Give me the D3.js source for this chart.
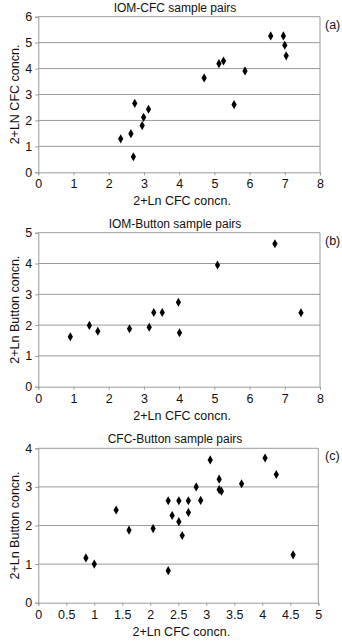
<!DOCTYPE html>
<html>
<head>
<meta charset="utf-8">
<script src="https://cdn.jsdelivr.net/npm/d3@7"></script>
<style>
  body { margin: 0; background: #fff; }
  svg text { font-family: "Liberation Sans", Arial, sans-serif; fill: #111; }
</style>
</head>
<body>
<div id="vis"></div>
<script>
// panel (a) IOM-CFC
var aX = [2.34, 2.63, 2.70, 2.74, 2.95, 2.99, 3.13, 4.71, 5.13, 5.26, 5.56, 5.87, 6.60, 6.96, 7.00, 7.04];
var aY = [1.29, 1.49, 0.60, 2.66, 1.80, 2.12, 2.43, 3.64, 4.19, 4.29, 2.61, 3.91, 5.26, 5.26, 4.90, 4.49];
// panel (b) IOM-Button
var bX = [0.91, 1.45, 1.69, 2.59, 3.15, 3.28, 3.52, 3.98, 4.01, 5.09, 6.72, 7.46];
var bY = [1.62, 1.99, 1.80, 1.88, 1.93, 2.41, 2.41, 2.74, 1.75, 3.95, 4.64, 2.40];
// panel (c) CFC-Button
var cX = [0.85, 1.00, 1.39, 1.62, 2.05, 2.32, 2.32, 2.39, 2.51, 2.51, 2.57, 2.68, 2.68, 2.82, 2.90, 3.07, 3.23, 3.23, 3.27, 3.63, 4.05, 4.25, 4.55];
var cY = [1.16, 1.00, 2.40, 1.88, 1.92, 0.83, 2.64, 2.26, 2.64, 2.10, 1.74, 2.64, 2.34, 3.00, 2.65, 3.70, 3.20, 2.93, 2.89, 3.08, 3.75, 3.32, 1.24];

var ticksA_x = [0, 1, 2, 3, 4, 5, 6, 7, 8];
var ticksA_y = [0, 1, 2, 3, 4, 5, 6];
var ticksB_x = [0, 1, 2, 3, 4, 5, 6, 7, 8];
var ticksB_y = [0, 1, 2, 3, 4, 5];
var ticksC_x = [0, 0.5, 1, 1.5, 2, 2.5, 3, 3.5, 4, 4.5, 5];
var ticksC_y = [0, 1, 2, 3, 4];

var titles = ["IOM-CFC sample pairs", "IOM-Button sample pairs", "CFC-Button sample pairs"];
var yTitles = ["2+LN CFC concn.", "2+Ln Button concn.", "2+Ln Button concn."];
var xTitle = "2+Ln CFC concn.";
var tags = ["(a)", "(b)", "(c)"];

var width = 342, height = 642;
var svg = d3.select("#vis").append("svg")
    .attr("width", width)
    .attr("height", height);

var panels = [
  {xs: aX, ys: aY, tx: ticksA_x, ty: ticksA_y, top: 16.7, bottom: 172.3, right: 320},
  {xs: bX, ys: bY, tx: ticksB_x, ty: ticksB_y, top: 232.7, bottom: 386.7, right: 320},
  {xs: cX, ys: cY, tx: ticksC_x, ty: ticksC_y, top: 448.3, bottom: 602.7, right: 318.3}
];
var left = 38.3;
var gridCol = "#9a9a9a";

panels.forEach(function(p, i) {
  var x = d3.scaleLinear()
    .domain([p.tx[0], p.tx[p.tx.length - 1]])
    .range([left, p.right]);
  var y = d3.scaleLinear()
    .domain([p.ty[0], p.ty[p.ty.length - 1]])
    .range([p.bottom, p.top]);

  var g = svg.append("g");

  // gridlines
  g.append("g")
    .selectAll("line")
    .data(p.ty.slice(1))
    .enter()
    .append("line")
      .attr("x1", left).attr("x2", p.right)
      .attr("y1", function(d) { return y(d); })
      .attr("y2", function(d) { return y(d); })
      .attr("stroke", gridCol)
      .attr("stroke-width", 1);

  // right border
  g.append("line")
    .attr("x1", p.right).attr("x2", p.right)
    .attr("y1", p.top).attr("y2", p.bottom)
    .attr("stroke", gridCol);

  // axes
  var xa = g.append("g")
    .attr("transform", "translate(0," + p.bottom + ")")
    .call(d3.axisBottom(x).tickValues(p.tx).tickSize(3).tickPadding(4).tickFormat(d3.format("")));
  var ya = g.append("g")
    .attr("transform", "translate(" + left + ",0)")
    .call(d3.axisLeft(y).tickValues(p.ty).tickSize(3).tickPadding(3).tickFormat(d3.format("")));
  [xa, ya].forEach(function(a) {
    a.select(".domain").attr("stroke", gridCol);
    a.selectAll(".tick line").attr("stroke", gridCol);
    a.selectAll("text")
      .style("font-size", "12.5px")
      .style("font-family", "Liberation Sans, Arial, sans-serif")
      .attr("fill", "#111");
  });

  // points
  g.append("g")
    .selectAll("path")
    .data(p.xs.map(function(v, k) { return [v, p.ys[k]]; }))
    .enter()
    .append("path")
      .attr("d", d3.symbol().type(d3.symbolDiamond).size(24))
      .attr("transform", function(d) { return "translate(" + x(d[0]) + "," + y(d[1]) + ")"; })
      .attr("fill", "#000");

  // titles
  g.append("text")
    .attr("x", 175).attr("y", p.top - 5)
    .attr("text-anchor", "middle")
    .style("font-size", "12px")
    .text(titles[i]);
  g.append("text")
    .attr("x", (left + p.right) / 2 + 3).attr("y", p.bottom + 33)
    .attr("text-anchor", "middle")
    .style("font-size", "12.5px")
    .text(xTitle);
  g.append("text")
    .attr("transform", "translate(19," + (p.top + p.bottom) / 2 + ") rotate(-90)")
    .attr("text-anchor", "middle")
    .style("font-size", "12.5px")
    .text(yTitles[i]);
  g.append("text")
    .attr("x", 325).attr("y", p.top + 12)
    .style("font-size", "12.5px")
    .text(tags[i]);
});
</script>
</body>
</html>
